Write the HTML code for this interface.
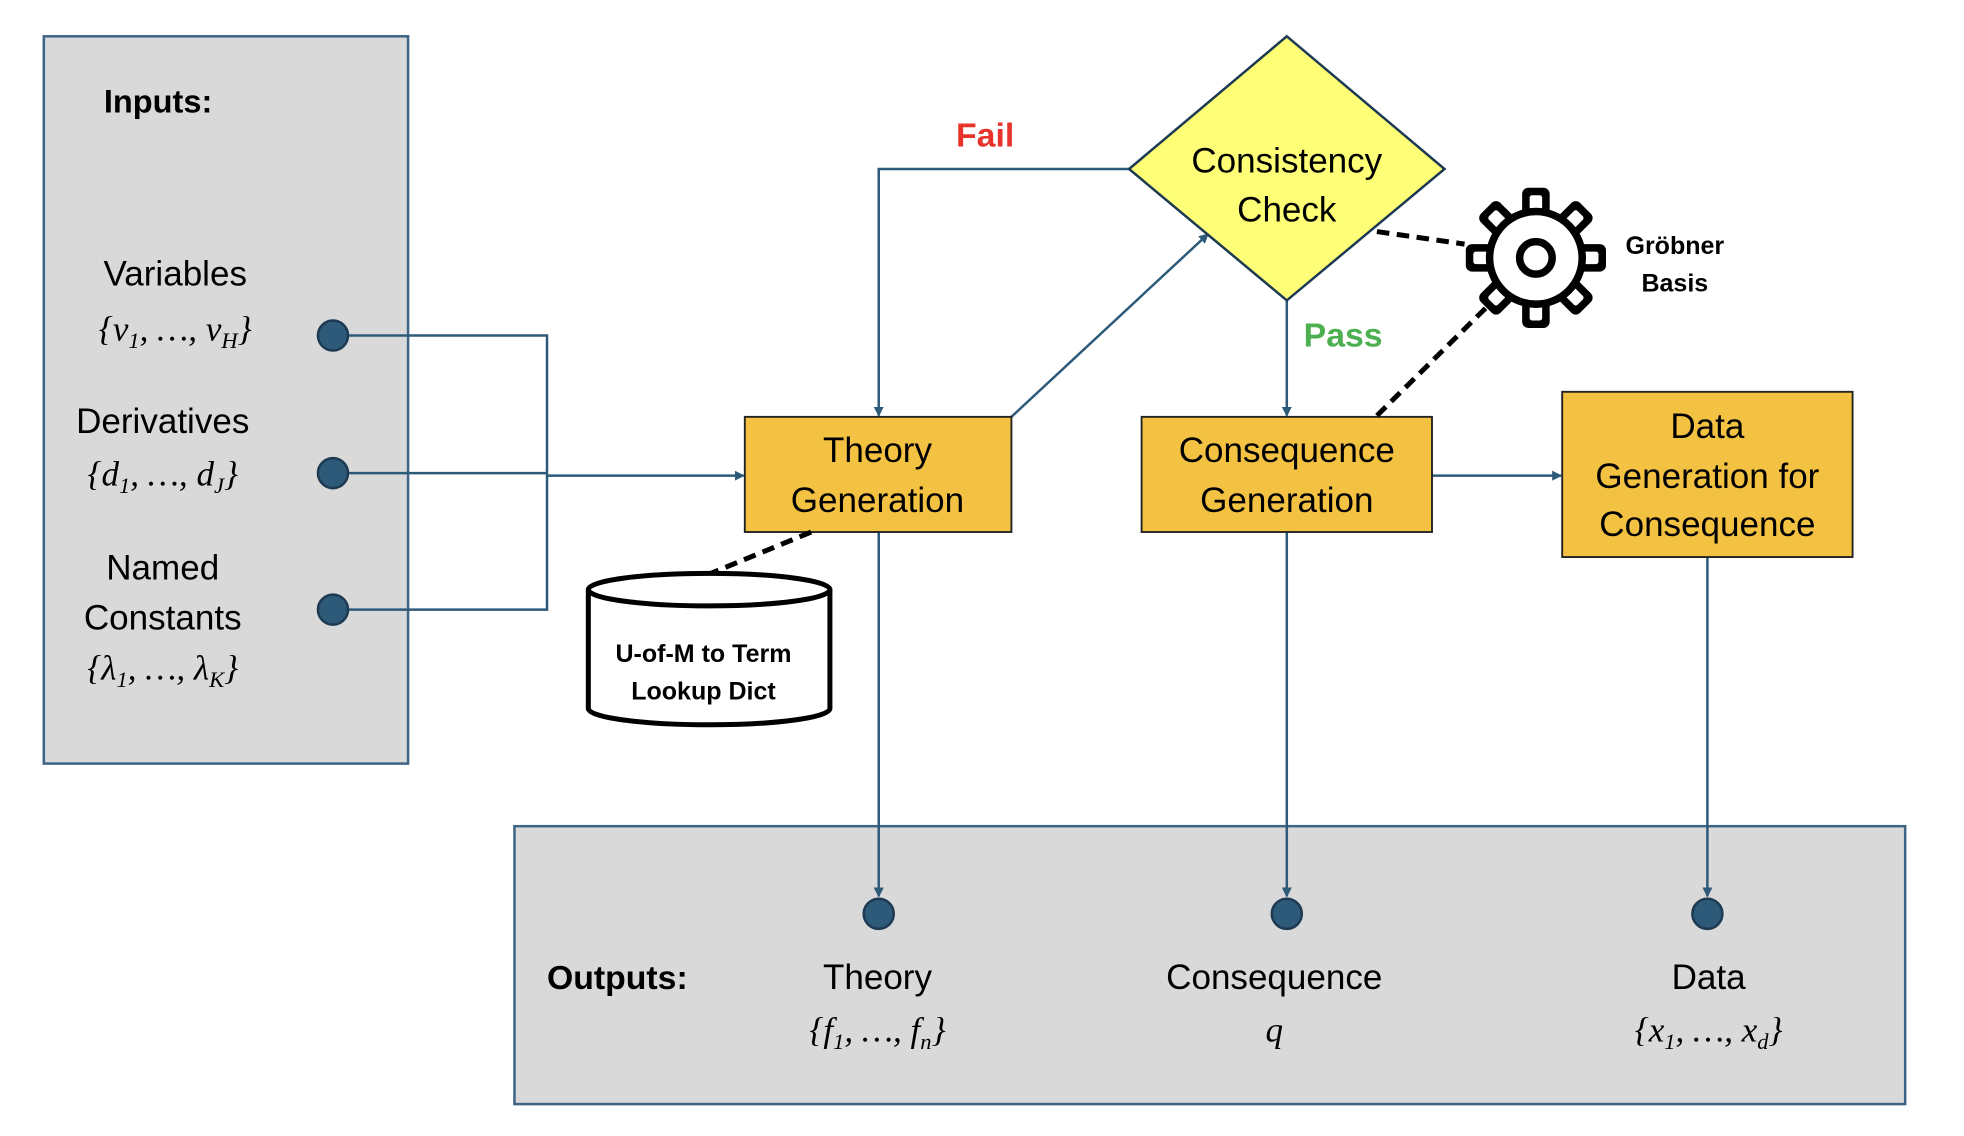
<!DOCTYPE html>
<html><head><meta charset="utf-8"><style>
html,body{margin:0;padding:0;background:#fff;}
svg{display:block;}
text{font-family:"Liberation Sans",sans-serif;}
.m{font-family:"Liberation Serif",serif;font-style:italic;}
</style></head><body>
<svg width="1964" height="1136" viewBox="0 0 1569 907.5" preserveAspectRatio="none" xmlns="http://www.w3.org/2000/svg">
<defs>
<marker id="a" markerWidth="8" markerHeight="8" refX="7" refY="4" orient="auto" markerUnits="userSpaceOnUse">
<path d="M0,0 L8,4 L0,8 Z" fill="#2e5a7a"/></marker>
</defs>
<rect x="35" y="29" width="291" height="581" fill="#d9d9d9" stroke="#3d6485" stroke-width="2"/>
<rect x="411" y="660" width="1111" height="222" fill="#d9d9d9" stroke="#3d6485" stroke-width="2"/>
<text x="83" y="90" font-size="26" font-weight="bold">Inputs:</text>
<g font-size="28" text-anchor="middle">
<text x="140" y="228">Variables</text>
<text x="140" y="272" class="m">{v<tspan font-size="18" dy="6">1</tspan><tspan dy="-6">, …, v</tspan><tspan font-size="18" dy="6">H</tspan><tspan dy="-6">}</tspan></text>
<text x="130" y="346">Derivatives</text>
<text x="130" y="388" class="m">{d<tspan font-size="18" dy="6">1</tspan><tspan dy="-6">, …, d</tspan><tspan font-size="18" dy="6">J</tspan><tspan dy="-6">}</tspan></text>
<text x="130" y="463">Named</text>
<text x="130" y="503">Constants</text>
<text x="130" y="543" class="m">{λ<tspan font-size="18" dy="6">1</tspan><tspan dy="-6">, …, λ</tspan><tspan font-size="18" dy="6">K</tspan><tspan dy="-6">}</tspan></text>
</g>
<g stroke="#2e5a7a" stroke-width="2" fill="none">
<polyline points="266,268 437,268 437,487 266,487"/>
<line x1="266" y1="378" x2="437" y2="378"/>
<line x1="437" y1="380" x2="594" y2="380" marker-end="url(#a)"/>
<polyline points="902,135 702,135 702,332" marker-end="url(#a)"/>
<line x1="808" y1="333" x2="965" y2="187" marker-end="url(#a)"/>
<line x1="1028" y1="240" x2="1028" y2="332" marker-end="url(#a)"/>
<line x1="1144" y1="380" x2="1247" y2="380" marker-end="url(#a)"/>
<line x1="702" y1="425" x2="702" y2="716" marker-end="url(#a)"/>
<line x1="1028" y1="425" x2="1028" y2="716" marker-end="url(#a)"/>
<line x1="1364" y1="445" x2="1364" y2="716" marker-end="url(#a)"/>
</g>
<g fill="#2e5a7a" stroke="#1d3a52" stroke-width="2">
<circle cx="266" cy="268" r="12"/><circle cx="266" cy="378" r="12"/><circle cx="266" cy="487" r="12"/>
<circle cx="702" cy="730" r="12"/><circle cx="1028" cy="730" r="12"/><circle cx="1364" cy="730" r="12"/>
</g>
<text x="437" y="790" font-size="27" font-weight="bold">Outputs:</text>
<g font-size="28" text-anchor="middle">
<text x="701" y="790">Theory</text>
<text x="701" y="832" class="m">{f<tspan font-size="18" dy="6">1</tspan><tspan dy="-6">, …, f</tspan><tspan font-size="18" dy="6">n</tspan><tspan dy="-6">}</tspan></text>
<text x="1018" y="790">Consequence</text>
<text x="1018" y="832" class="m">q</text>
<text x="1365" y="790">Data</text>
<text x="1365" y="832" class="m">{x<tspan font-size="18" dy="6">1</tspan><tspan dy="-6">, …, x</tspan><tspan font-size="18" dy="6">d</tspan><tspan dy="-6">}</tspan></text>
</g>
<g fill="#f4c242" stroke="#222" stroke-width="1.5">
<rect x="595" y="333" width="213" height="92"/>
<rect x="912" y="333" width="232" height="92"/>
<rect x="1248" y="313" width="232" height="132"/>
</g>
<g font-size="28" text-anchor="middle">
<text x="701" y="369">Theory</text><text x="701" y="409">Generation</text>
<text x="1028" y="369">Consequence</text><text x="1028" y="409">Generation</text>
<text x="1364" y="350">Data</text><text x="1364" y="390">Generation for</text><text x="1364" y="428">Consequence</text>
</g>
<polygon points="1028,29 1154,135 1028,240 902,135" fill="#ffff77" stroke="#1d3a52" stroke-width="2"/>
<g font-size="28" text-anchor="middle">
<text x="1028" y="138">Consistency</text><text x="1028" y="177">Check</text>
</g>
<text x="787" y="117" font-size="27" font-weight="bold" fill="#e8332a" text-anchor="middle">Fail</text>
<text x="1073" y="277" font-size="27" font-weight="bold" fill="#4caf50" text-anchor="middle">Pass</text>
<g stroke="#000" stroke-width="4" stroke-dasharray="10,6">
<line x1="1100" y1="185" x2="1170" y2="195"/>
<line x1="1100" y1="332" x2="1188" y2="245"/>
<line x1="648" y1="425" x2="568" y2="458"/>
</g>
<g transform="translate(1227,206)">
<g fill="#000">
<rect x="-11" y="-56" width="22" height="24" rx="5"/>
<rect x="-11" y="-56" width="22" height="24" rx="5" transform="rotate(45)"/>
<rect x="-11" y="-56" width="22" height="24" rx="5" transform="rotate(90)"/>
<rect x="-11" y="-56" width="22" height="24" rx="5" transform="rotate(135)"/>
<rect x="-11" y="-56" width="22" height="24" rx="5" transform="rotate(180)"/>
<rect x="-11" y="-56" width="22" height="24" rx="5" transform="rotate(225)"/>
<rect x="-11" y="-56" width="22" height="24" rx="5" transform="rotate(270)"/>
<rect x="-11" y="-56" width="22" height="24" rx="5" transform="rotate(315)"/>
</g>
<g fill="#fff">
<rect x="-5" y="-50" width="10" height="20" rx="2"/>
<rect x="-5" y="-50" width="10" height="20" rx="2" transform="rotate(45)"/>
<rect x="-5" y="-50" width="10" height="20" rx="2" transform="rotate(90)"/>
<rect x="-5" y="-50" width="10" height="20" rx="2" transform="rotate(135)"/>
<rect x="-5" y="-50" width="10" height="20" rx="2" transform="rotate(180)"/>
<rect x="-5" y="-50" width="10" height="20" rx="2" transform="rotate(225)"/>
<rect x="-5" y="-50" width="10" height="20" rx="2" transform="rotate(270)"/>
<rect x="-5" y="-50" width="10" height="20" rx="2" transform="rotate(315)"/>
</g>
<circle r="37" fill="#fff" stroke="#000" stroke-width="6"/>
<circle r="13" fill="#fff" stroke="#000" stroke-width="6"/>
</g>
<g font-size="20" font-weight="bold" text-anchor="middle">
<text x="1338" y="203">Gröbner</text><text x="1338" y="233">Basis</text>
</g>
<path d="M470,471 L470,566 A96.5,13 0 0 0 663,566 L663,471" fill="#fff" stroke="#000" stroke-width="4"/>
<ellipse cx="566.5" cy="471" rx="96.5" ry="13" fill="#fff" stroke="#000" stroke-width="4"/>
<g font-size="20" font-weight="bold" text-anchor="middle">
<text x="562" y="529">U-of-M to Term</text><text x="562" y="559">Lookup Dict</text>
</g>
</svg>
</body></html>
